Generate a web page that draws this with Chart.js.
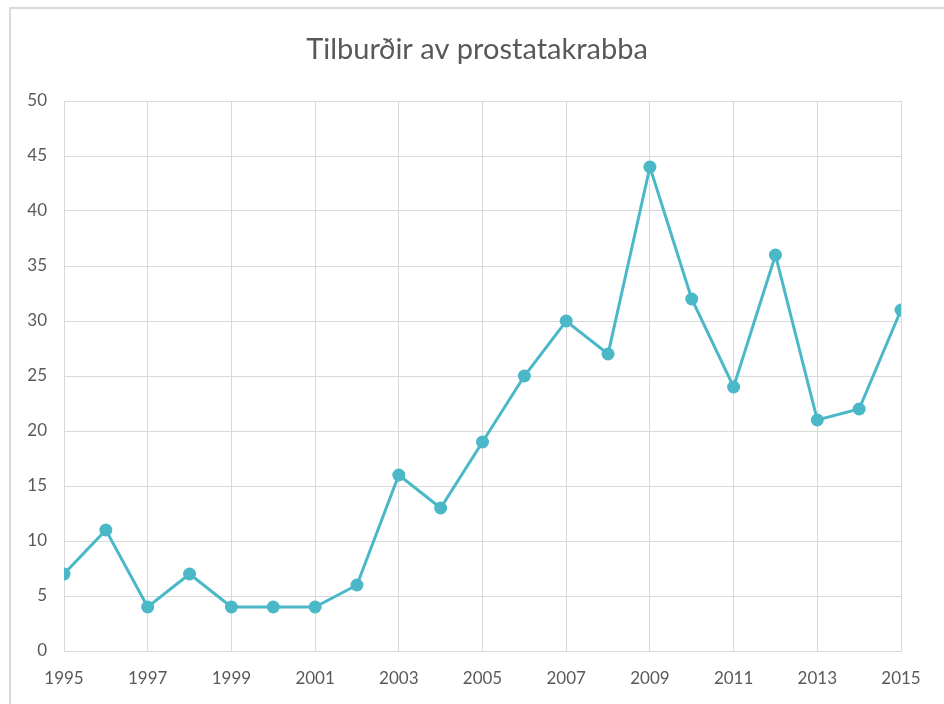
<!DOCTYPE html>
<html>
<head>
<meta charset="utf-8">
<script src="https://cdn.jsdelivr.net/npm/chart.js@4.4.0/dist/chart.umd.min.js"></script>
<style>
  html, body { margin: 0; padding: 0; background: #fff; }
  #wrap { position: relative; width: 944px; height: 704px; overflow: hidden; }
  #frame { position: absolute; left: 9px; top: 7px; width: 960px; height: 720px; border: 2px solid #d9d9d9; box-sizing: border-box; }
  #chartBox { position: absolute; left: 0; top: 0; width: 944px; height: 704px; }
</style>
</head>
<body>
<div id="wrap">
  <div id="frame"></div>
  <div id="chartBox"><canvas id="cancerChart"></canvas></div>
</div>
<script>
// Data
const years = [1995, 1996, 1997, 1998, 1999, 2000, 2001, 2002, 2003, 2004, 2005,
               2006, 2007, 2008, 2009, 2010, 2011, 2012, 2013, 2014, 2015];
const cases = [7, 11, 4, 7, 4, 4, 4, 6, 16, 13, 19,
               25, 30, 27, 44, 32, 24, 36, 21, 22, 31];
const chartTitle = 'Tilburðir av prostatakrabba';

const lineColor = '#4bb8c8';
const gridColor = '#d9d9d9';
const textColor = '#595959';
const fontFamily = 'Lato, "Open Sans", sans-serif';

// Title is centred on the outer frame rather than the plot, so draw it by hand
const frameTitle = {
    id: 'frameTitle',
    afterDraw: function(chart) {
        const c = chart.ctx;
        c.save();
        c.fillStyle = textColor;
        c.font = '400 29px ' + fontFamily;
        c.textAlign = 'center';
        c.textBaseline = 'middle';
        c.fillText(chartTitle, (10 + chart.width) / 2, 50);
        c.restore();
    }
};

document.addEventListener('DOMContentLoaded', function() {
    const ctx = document.getElementById('cancerChart');
    const points = years.map((y, i) => ({ x: y, y: cases[i] }));

    new Chart(ctx, {
        type: 'line',
        data: {
            datasets: [{
                label: chartTitle,
                data: points,
                borderColor: lineColor,
                backgroundColor: lineColor,
                borderWidth: 3,
                pointRadius: 6.5,
                pointHoverRadius: 6.5,
                pointBorderWidth: 0,
                tension: 0
            }]
        },
        options: {
            responsive: true,
            maintainAspectRatio: false,
            animation: false,
            layout: {
                padding: { left: 0, right: 43, top: 101, bottom: 0 }
            },
            plugins: {
                legend: { display: false },
                tooltip: { enabled: false },
                title: { display: false }
            },
            scales: {
                x: {
                    type: 'linear',
                    min: 1995,
                    max: 2015,
                    afterFit: function(scale) { scale.height = 53; },
                    grid: { color: gridColor, drawTicks: false },
                    border: { color: gridColor },
                    ticks: {
                        stepSize: 2,
                        padding: 17,
                        color: textColor,
                        font: { family: fontFamily, size: 17 },
                        callback: function(value) { return String(value); }
                    }
                },
                y: {
                    min: 0,
                    max: 50,
                    afterFit: function(scale) { scale.width = 64; },
                    grid: { color: gridColor, drawTicks: false },
                    border: { display: false },
                    ticks: {
                        stepSize: 5,
                        padding: 17,
                        color: textColor,
                        font: { family: fontFamily, size: 17 }
                    }
                }
            }
        },
        plugins: [frameTitle]
    });
});
</script>
</body>
</html>
